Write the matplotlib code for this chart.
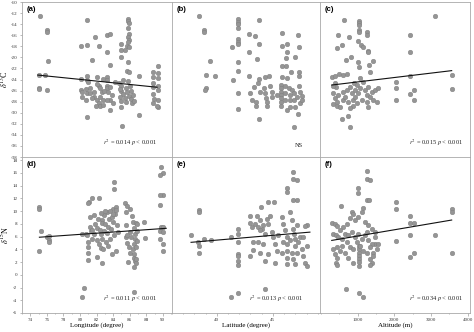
import matplotlib
matplotlib.use("Agg")
import matplotlib.pyplot as plt
from matplotlib.ticker import MultipleLocator, FixedLocator

plt.rcParams["font.family"] = ["Liberation Serif", "DejaVu Serif"]
plt.rcParams["mathtext.fontset"] = "stix"
plt.rcParams["axes.unicode_minus"] = False

# ---- data ----
# (a) longitude vs d13C
lon_a = [75.2, 76.0, 76.0, 76.1, 75.0, 75.8, 75.0, 75.1, 76.0,
         80.9, 80.1, 80.8, 81.8, 82.3, 81.5, 83.2, 83.3, 83.6, 83.6, 83.2, 82.1, 80.9, 80.8, 80.1, 80.8,
         80.1, 80.2, 80.7, 80.9, 80.3, 80.7, 81.2, 81.2, 81.7, 81.7, 82.0, 82.3, 82.4, 81.9, 82.4, 82.8,
         82.8, 82.3, 82.1, 83.2, 83.3, 83.4, 83.6, 83.2, 83.6, 84.0, 82.8, 83.2, 83.6, 82.4, 81.5, 82.6,
         83.9, 81.0, 84.2, 82.9,
         85.8, 85.8, 85.9, 85.8, 85.9, 85.8, 85.9, 85.8, 85.7, 85.9, 85.0, 84.9, 84.9, 85.4, 85.8, 85.7, 85.9,
         84.7, 84.9, 85.0, 85.2, 84.8, 85.0, 85.5, 85.7, 85.9, 86.1, 86.3, 85.6, 86.0, 86.2, 86.4, 85.4,
         86.5, 85.8, 85.2, 84.8, 85.0, 85.1, 87.1, 87.1,
         89.4, 88.8, 89.4, 88.8, 89.4, 88.8, 89.4, 88.8, 89.4, 88.8, 88.9, 89.4, 88.8, 89.4, 89.3]
c13_a = [-12.5, -15.1, -15.5, -20.6, -23.2, -23.2, -25.6, -25.8, -25.9,
         -13.2, -17.9, -17.7, -16.3, -18.0, -20.4, -19.0, -16.0, -15.8, -21.4, -23.5, -23.5, -23.3, -24.0, -23.9, -30.8,
         -25.9, -26.2, -25.8, -26.5, -27.1, -27.7, -25.6, -26.5, -26.2, -27.1, -27.7, -28.3, -28.8, -28.8, -27.1, -27.7,
         -28.6, -25.2, -24.9, -25.2, -25.6, -26.2, -27.7, -27.7, -29.5, -28.3, -23.9, -24.0, -25.3, -25.6, -27.4, -26.3,
         -26.8, -24.5, -24.4, -26.0,
         -13.1, -13.4, -13.8, -14.7, -15.7, -16.3, -16.9, -17.3, -17.9, -18.2, -17.5, -18.7, -20.0, -18.7, -20.8, -22.5, -22.6,
         -24.6, -25.2, -26.0, -26.6, -27.2, -27.8, -25.5, -26.3, -27.0, -27.6, -28.2, -28.0, -25.2, -26.0, -26.8, -27.3,
         -27.9, -24.2, -24.0, -25.8, -29.0, -32.4, -23.3, -30.5,
         -21.5, -22.6, -22.9, -23.5, -23.7, -24.6, -25.2, -25.4, -25.9, -26.6, -27.5, -27.7, -28.3, -29.0, -28.7]
fit_a_x = [74.9, 89.3]
fit_a_y = [-23.2, -25.4]

# (b) latitude vs d13C
lat_b = [38.37, 38.87, 38.87, 39.35, 38.99, 39.85, 39.0, 38.97,
         41.93, 41.93, 41.93, 41.93, 41.93, 41.93, 41.93, 41.93, 41.93, 41.93, 41.93,
         41.37, 41.4, 42.9, 42.9, 42.9, 43.4, 43.8, 43.8, 43.54, 43.8,
         45.8, 46.25, 45.8, 46.25, 46.2, 45.8, 46.2, 45.8, 46.25, 46.6, 47.2, 47.35, 47.0, 47.3, 47.3, 46.9, 47.2,
         42.93, 43.27, 43.66, 43.8, 44.3, 44.61, 43.13, 43.45, 43.45, 43.87, 44.17, 44.3, 44.4, 44.46, 44.46,
         44.76, 44.9, 44.9, 45.35, 45.71, 45.71, 45.71, 45.71, 45.71, 45.71, 45.71, 46.1, 46.1, 46.1, 46.4,
         46.5, 46.5, 46.7, 46.9, 46.9, 47.0, 47.15, 47.3, 47.4, 47.4, 47.6, 47.6, 46.25, 46.55]
c13_b = [-12.5, -15.1, -15.5, -20.7, -23.2, -23.3, -25.6, -25.9,
         -13.1, -13.6, -14.0, -14.7, -16.7, -17.2, -17.6, -20.8, -22.5, -26.4, -29.4,
         -18.1, -24.0, -15.8, -19.1, -23.4, -16.1, -17.6, -13.3, -20.3, -31.2,
         -15.6, -17.5, -18.0, -19.0, -20.2, -21.5, -21.5, -23.6, -23.8, -22.7, -15.9, -18.2, -19.9, -22.6, -23.3, -32.5, -30.3,
         -26.5, -25.4, -24.6, -23.9, -23.6, -23.4, -27.7, -28.0, -28.8, -26.2, -25.6, -26.5, -27.3, -28.0, -28.8,
         -25.2, -26.2, -27.1, -26.8, -25.0, -25.6, -26.2, -26.8, -27.4, -28.0, -28.8, -25.2, -26.5, -27.7, -25.6,
         -26.8, -27.7, -25.9, -26.5, -27.7, -29.0, -27.2, -25.2, -26.2, -28.3, -27.0, -27.7, -29.5, -29.0]

# (c) altitude vs d13C
alt_c = [618, 1027, 1027, 1027, 1027, 1027, 1245, 1245, 472, 763, 563, 436, 1000, 1082, 1154, 1290, 1290,
         690, 809, 1000, 1027, 1408, 1335, 1310,
         3098, 2425, 2425, 2425, 2035, 2035, 2035, 2425, 2534, 2534, 3561, 3561, 563, 745, 790,
         290, 381, 500, 590, 699, 409, 336, 381, 318, 427, 427, 518, 590, 654, 699, 745, 790, 836, 881, 881,
         899, 927, 927, 972, 990, 1018, 1063, 1108, 1154, 1199, 1245, 1245, 1290, 1290, 1335, 1381, 1426,
         1472, 1517, 1562, 381, 472, 609, 790, 336, 1063]
c13_c = [-13.25, -13.4, -13.8, -14.2, -15.0, -15.4, -15.4, -15.9, -16.0, -16.3, -17.8, -18.3, -17.1, -17.7, -18.1, -18.9, -19.0,
         -20.4, -19.9, -20.8, -21.7, -20.6, -22.7, -21.4,
         -12.5, -16.0, -19.1, -23.4, -24.5, -25.6, -27.7, -26.6, -25.9, -27.7, -23.2, -25.7, -31.2, -30.6, -32.6,
         -23.5, -23.4, -23.0, -23.2, -23.0, -25.4, -26.5, -27.4, -28.4, -28.0, -28.8, -28.9, -27.7, -27.1, -25.9, -28.0, -25.3, -26.5, -27.7, -28.8,
         -24.7, -25.9, -27.1, -28.3, -25.0, -26.5, -25.6, -27.7, -24.4, -25.9, -26.8, -28.0, -25.3, -28.9, -27.1, -26.2, -27.7,
         -25.9, -28.0, -25.6, -24.7, -26.8, -26.2, -29.2, -25.2, -23.8]
fit_c_x = [290, 3560]
fit_c_y = [-25.0, -22.4]

# (d) longitude vs d15N
lon_d = [75.1, 75.1, 75.1, 75.3, 76.05, 76.3, 76.3, 76.3,
         80.2, 80.5, 80.2, 80.7, 80.9, 81.1, 81.4, 82.3, 81.0, 81.7, 81.2, 81.2, 81.3, 81.0, 81.0, 81.0, 81.0,
         82.1, 82.7, 82.6, 82.6, 82.9, 83.1, 84.15, 84.15, 84.0, 84.3, 83.2, 83.6, 84.5, 84.6, 83.8, 84.3,
         81.8, 82.0, 82.2, 82.4, 82.5, 82.7, 82.9, 83.0, 83.2, 83.4, 83.5, 83.7, 83.9, 84.0, 84.2, 84.4,
         82.3, 82.5, 82.8, 83.4, 83.6, 84.1, 81.5, 81.7, 82.1, 83.0, 82.5, 84.0, 81.4,
         85.4, 85.7, 85.6, 86.0, 86.3, 85.6, 86.0, 85.5, 85.7, 85.9, 86.0, 85.8, 86.4, 86.5, 86.6, 86.6,
         86.5, 86.4, 86.5, 86.5, 86.6, 86.7, 86.5, 86.8, 86.8, 86.9, 86.9, 86.7, 86.9, 86.5, 85.7, 86.2,
         87.75, 87.9,
         89.8, 90.0, 89.7, 90.0, 89.7, 89.7, 89.8, 90.0, 89.7, 90.0, 89.7, 90.0, 90.0]
n15_d = [10.7, 10.3, 3.8, 6.8, 6.0, 6.1, 5.5, 5.1,
         -3.5, -2.1, 6.4, 6.4, 6.3, 11.5, 12.1, 12.1, 11.3, 9.4, 9.1, 7.5, 6.9, 5.2, 4.3, 3.4, 2.4,
         2.8, 1.9, 8.6, 8.2, 9.4, 5.2, 14.5, 13.5, 10.4, 10.7, 9.9, 10.0, 7.8, 6.7, 3.3, 3.8,
         7.9, 7.3, 8.8, 7.0, 6.4, 5.7, 6.9, 8.0, 6.6, 7.5, 8.8, 7.2, 9.0, 8.3, 9.5, 10.2,
         4.9, 4.2, 4.1, 4.6, 5.6, 6.2, 5.7, 6.4, 5.4, 10.0, 9.7, 9.6, 7.0,
         11.3, 10.8, 9.9, 10.4, 9.3, 7.8, 6.7, 6.0, 5.0, 4.3, 3.5, 2.0, 8.3, 7.4, 6.4, 5.6,
         4.8, 4.0, 3.3, 2.7, 2.2, 1.8, 1.3, 2.5, 4.4, 5.3, 6.8, 8.1, 8.0, -2.7, 6.3, 5.9,
         8.3, 5.8,
         17.0, 16.0, 15.7, 12.5, 12.5, 11.0, 7.5, 7.5, 6.8, 6.7, 5.7, 4.8, 3.7]
fit_d_x = [75.1, 90.4]
fit_d_y = [5.9, 7.3]

# (e) latitude vs d15N
lat_e = [37.7, 38.33, 38.42, 38.42, 38.42, 38.42, 38.87, 39.44, 41.22, 41.22,
         41.88, 41.88, 41.88, 41.88, 41.88, 41.88, 41.88, 41.88, 42.95, 42.95, 42.95, 43.24, 43.66, 43.24,
         43.54, 43.84, 43.99, 43.96, 44.58, 45.09, 44.26, 46.25, 46.25, 46.82, 46.82, 47.11, 46.82, 47.11, 48.0, 47.9,
         43.1, 43.39, 43.69, 43.84, 44.14, 44.29, 44.44, 44.58, 44.73, 44.88, 45.03, 45.18, 45.33, 45.48, 44.14,
         43.84, 44.58, 44.29, 45.18, 45.77, 45.92, 46.07, 46.25, 46.25, 46.25, 46.25, 46.25, 46.52, 46.67,
         46.82, 46.88, 46.96, 47.11, 46.96, 47.11, 47.26, 47.41, 47.56, 47.71, 47.86, 48.0, 48.0, 47.71,
         46.67, 46.82, 46.96, 46.52, 45.92, 45.77]
n15_e = [6.3, 5.1, 4.6, 3.4, 10.1, 9.8, 5.7, 5.5, 5.9, -3.5,
         7.2, 6.4, 5.1, 3.3, 3.0, 2.1, 1.6, -2.8, 9.3, 8.2, 3.0, 5.1, 5.1, 3.9,
         9.3, 8.6, 7.2, 10.7, 11.5, 11.5, -2.2, 13.6, 13.0, 16.2, 15.1, 14.9, 11.8, 11.8, 7.8, 7.6,
         7.5, 8.0, 7.5, 7.0, 7.8, 6.4, 8.8, 8.0, 9.3, 6.7, 5.9, 4.8, 3.8, 6.2, 4.8,
         3.4, 3.3, 2.2, 1.9, 9.1, 8.0, 7.0, 5.9, 4.8, 3.8, 2.7, 1.7, 9.9, 8.6,
         7.2, 6.4, 5.6, 7.8, 4.6, 3.5, 5.1, 5.9, 4.1, 3.0, 1.9, 4.6, 1.4, 5.9,
         3.5, 2.5, 1.7, 5.4, 5.1, 3.5]
fit_e_x = [37.7, 48.3]
fit_e_y = [5.1, 6.7]

# (f) altitude vs d15N
alt_f = [1245, 1245, 1335, 1000, 1000, 545, 1136, 1245, 1317, 300, 380, 430,
         2035, 2035, 2425, 2425, 2540, 2425, 3098, 3560, 3560, 3560, 2035, 2425, 2540, 672, 1027, 1153,
         1470, 1400, 1335, 1027, 1027, 1027, 1027, 1027, 1027, 1027,
         836, 881, 790, 927, 1018, 1108, 1199, 1290, 1381, 1472, 609, 699, 518, 336, 409, 472, 563, 654,
         745, 836, 927, 1018, 1108, 1199, 1290, 1381, 1472, 1562, 336, 427, 518, 381, 445, 409, 445, 563,
         654, 699, 790, 881, 972, 1063, 1154, 1245, 1335, 1426, 1517, 1245, 745, 881, 1335, 1426]
n15_f = [16.3, 15.1, 14.9, 13.6, 12.8, 10.8, 10.5, 11.8, 11.7, 8.2, 7.9, 7.6,
         11.5, 10.3, 9.3, 8.2, 8.2, 6.2, 6.3, 10.3, 9.9, 3.4, 5.3, 2.8, 3.4, -2.2, -2.8, -3.5,
         4.9, 1.9, 1.6, 4.6, 4.0, 3.5, 3.0, 2.5, 2.0, 1.4,
         9.9, 9.5, 8.9, 8.6, 9.1, 9.9, 8.3, 7.8, 7.2, 6.7, 7.5, 8.0, 7.0, 6.4, 6.2, 5.9, 5.6, 6.4,
         6.2, 6.7, 5.9, 6.4, 5.6, 6.2, 5.4, 4.8, 5.9, 4.8, 4.1, 4.3, 3.8, 3.3, 2.7, 1.9, 1.5, 4.6,
         3.5, 5.1, 4.3, 4.1, 5.1, 4.6, 3.8, 3.5, 4.3, 3.5, 4.1, 6.7, 2.7, 1.9, 2.5, 3.0]
fit_f_x = [290, 3560]
fit_f_y = [5.4, 8.6]

panel_tags = ["(a)", "(b)", "(c)", "(d)", "(e)", "(f)"]
stat_text = [r"$r^2$ = 0.014 $p$ < 0.001", "NS", r"$r^2$ = 0.015 $p$ < 0.001",
             r"$r^2$ = 0.011 $p$ < 0.001", r"$r^2$ = 0.013 $p$ < 0.001", r"$r^2$ = 0.034 $p$ < 0.001"]
x_titles = ["Longitude (degree)", "Latitude (degree)", "Altitude (m)"]
y_titles = [r"$\delta^{13}$C", r"$\delta^{15}$N"]

xs = [lon_a, lat_b, alt_c, lon_d, lat_e, alt_f]
ys = [c13_a, c13_b, c13_c, n15_d, n15_e, n15_f]
fits = [(fit_a_x, fit_a_y), None, (fit_c_x, fit_c_y),
        (fit_d_x, fit_d_y), (fit_e_x, fit_e_y), (fit_f_x, fit_f_y)]

# ---- layout (pixel boxes) ----
W, H = 474, 332
fig = plt.figure(figsize=(W / 100, H / 100), dpi=100)
col_px = [(22, 172), (172, 320), (320, 470)]
row_px = [(2, 157), (157, 313)]
xlims = [(73.0, 91.1), (36.0, 49.2), (-30, 4060)]
ylims = [(-38, -10), (-6, 18.5)]
stat_pos = [0.9, 0.885, 0.955]
edge = "#a8a8a8"

for i in range(6):
    r, c = divmod(i, 3)
    x0, x1 = col_px[c]
    y0, y1 = row_px[r]
    ax = fig.add_axes([x0 / W, (H - y1) / H, (x1 - x0) / W, (y1 - y0) / H])
    ax.scatter(xs[i], ys[i], s=11, facecolor="#959595", edgecolor="#7d7d7d", linewidth=0.3, zorder=2)
    if fits[i] is not None:
        ax.plot(fits[i][0], fits[i][1], color="#111111", lw=0.8, zorder=3)
    ax.set_xlim(*xlims[c])
    ax.set_ylim(*ylims[r])
    for s in ax.spines.values():
        s.set_color(edge)
        s.set_linewidth(0.6)
    ax.tick_params(which="both", direction="out", color="#888888", width=0.4,
                   labelsize=3.6, pad=1.5, labelcolor="#333333")
    ax.tick_params(which="major", length=1.8)
    ax.tick_params(which="minor", length=1.0)

    if c == 0:
        ax.yaxis.set_major_locator(MultipleLocator(2))
        ax.set_ylabel(y_titles[r], fontsize=5.8)
        ax.yaxis.set_label_coords(-0.07, 0.5)
    else:
        ax.tick_params(axis="y", left=False, labelleft=False)

    if r == 1:
        if c == 0:
            ax.xaxis.set_major_locator(MultipleLocator(2))
            ax.xaxis.set_minor_locator(MultipleLocator(1))
        elif c == 1:
            ax.xaxis.set_major_locator(MultipleLocator(5))
            ax.xaxis.set_minor_locator(MultipleLocator(1))
        else:
            ax.xaxis.set_major_locator(FixedLocator([1000, 2000, 3000, 4000]))
            ax.xaxis.set_minor_locator(MultipleLocator(500))
        ax.set_xlabel(x_titles[c], fontsize=5)
        ax.xaxis.set_label_coords(0.5, -0.06)
    else:
        ax.tick_params(axis="x", which="both", bottom=False, labelbottom=False)

    ax.text(0.03, 0.975, panel_tags[i], transform=ax.transAxes, ha="left", va="top",
            fontsize=5.5, fontweight="bold", family=["Liberation Sans", "DejaVu Sans"])
    ax.text(stat_pos[c], 0.06, stat_text[i], transform=ax.transAxes, ha="right",
            va="bottom", fontsize=4.6, color="#222222")

fig.savefig("out.png", dpi=100)
